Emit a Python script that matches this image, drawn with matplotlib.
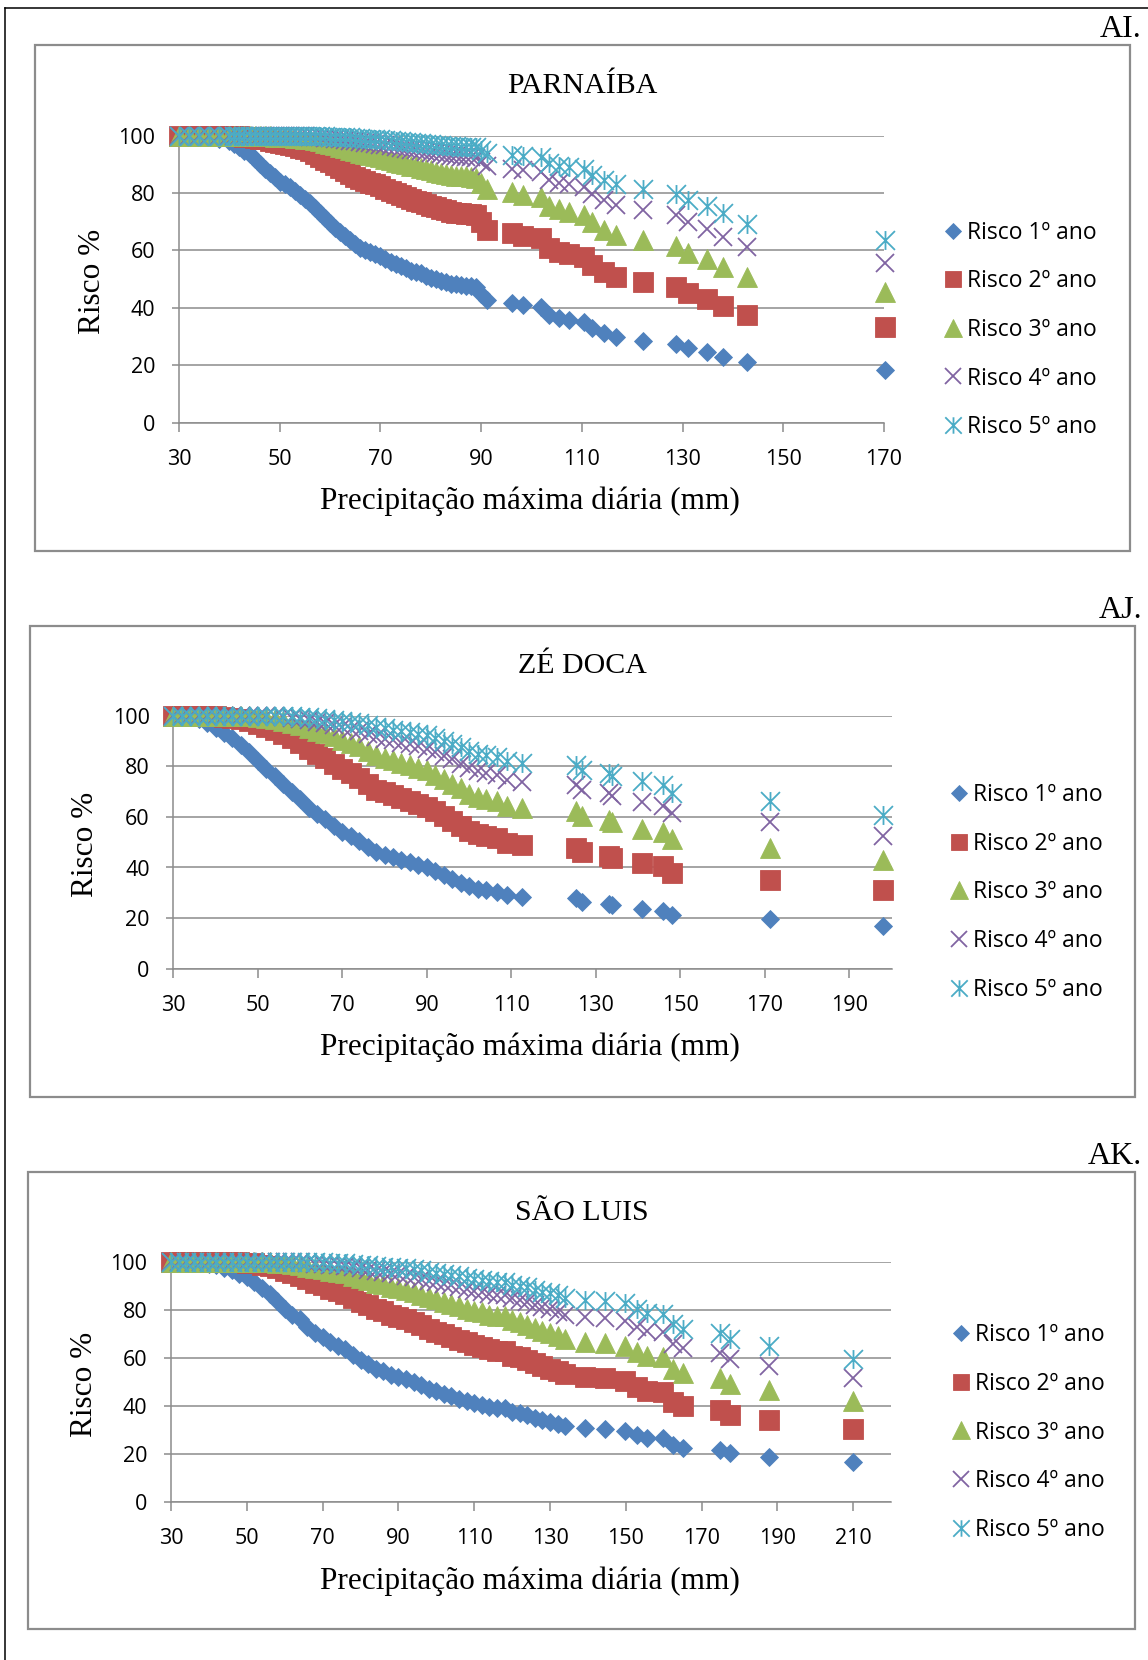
import matplotlib
matplotlib.use("Agg")
import matplotlib.pyplot as plt
from matplotlib.path import Path
from matplotlib.patches import Rectangle
from matplotlib.lines import Line2D

SANS = ['Open Sans', 'DejaVu Sans']
plt.rcParams['font.family'] = SANS

# ---------------- DATA ----------------
series_labels = ["Risco 1º ano", "Risco 2º ano", "Risco 3º ano", "Risco 4º ano", "Risco 5º ano"]
station_names = ["PARNAÍBA", "ZÉ DOCA", "SÃO LUIS"]
panel_tags = ["AI.", "AJ.", "AK."]
x_label = "Precipitação máxima diária (mm)"
y_label = "Risco %"

# PARNAÍBA
parnaiba_x = [30, 32, 34, 36, 38,
              40, 41, 42, 43, 44, 45, 46, 47, 48, 49,
              50, 51, 52, 53, 54, 55, 56, 57, 58, 59,
              60, 61, 62, 63, 64, 65, 66, 67, 68, 69,
              70, 71, 72, 73, 74, 75, 76, 77, 78, 79,
              80, 81, 82, 83, 84, 85, 86, 87, 88, 89,
              90, 91.2, 96.1, 98.3, 101.9, 103.4, 105.4, 107.5, 110.4, 112, 114.4, 116.8,
              122.1, 128.6, 131, 134.9, 138, 142.7, 170.2]
parnaiba_r1 = [100, 100, 99.8, 99.5, 99,
               98, 97, 96, 94.8, 93.5, 91.8, 90, 88.5, 87, 85.5,
               84, 83, 82, 80.8, 79.5, 78, 76.5, 74.8, 73, 71.2,
               69.5, 68, 66.5, 65, 63.5, 62.2, 61, 60.2, 59.5, 58.8,
               58, 57, 56, 55.2, 54.5, 53.8, 53, 52.5, 52, 51.2,
               50.5, 50, 49.5, 49, 48.5, 48.2, 48, 47.8, 47.7, 47.4,
               45, 42.8, 41.8, 41.0, 40.4, 37.5, 36.4, 35.8, 35.0, 32.9, 31.1, 29.8,
               28.6, 27.4, 25.9, 24.5, 23, 21, 18.4]
parnaiba_r2 = [100, 100, 100, 100, 100,
               100, 99.9, 99.8, 99.7, 99.6, 99.3, 99, 98.7, 98.3, 97.9,
               97.4, 97.1, 96.8, 96.3, 95.8, 95.2, 94.5, 93.6, 92.7, 91.7,
               90.7, 89.8, 88.8, 87.8, 86.7, 85.7, 84.8, 84.2, 83.6, 83.0,
               82.4, 81.5, 80.6, 79.9, 79.3, 78.7, 77.9, 77.4, 77.0, 76.2,
               75.5, 75.0, 74.5, 74.0, 73.5, 73.2, 73.0, 72.8, 72.6, 72.3,
               69.8, 67.3, 66.1, 65.2, 64.5, 60.9, 59.6, 58.8, 57.8, 55.0, 52.5, 50.7,
               49.0, 47.3, 45.1, 43.0, 40.7, 37.6, 33.4]
parnaiba_r3 = [100, 100, 100, 100, 100,
               100, 100, 100, 100, 100, 99.9, 99.9, 99.8, 99.8, 99.7,
               99.6, 99.5, 99.4, 99.3, 99.1, 98.9, 98.7, 98.4, 98.0, 97.6,
               97.2, 96.7, 96.2, 95.7, 95.1, 94.6, 94.1, 93.7, 93.4, 93.0,
               92.6, 92.0, 91.5, 91.0, 90.6, 90.1, 89.6, 89.3, 88.9, 88.4,
               87.9, 87.5, 87.1, 86.7, 86.3, 86.1, 85.9, 85.8, 85.7, 85.4,
               83.4, 81.3, 80.3, 79.5, 78.8, 75.6, 74.3, 73.5, 72.5, 69.8, 67.3, 65.4,
               63.6, 61.7, 59.3, 57.0, 54.3, 50.7, 45.7]
parnaiba_r4 = [100, 100, 100, 100, 100,
               100, 100, 100, 100, 100, 100, 100, 100, 100, 100,
               99.9, 99.9, 99.9, 99.9, 99.8, 99.8, 99.7, 99.6, 99.5, 99.3,
               99.1, 99.0, 98.7, 98.5, 98.2, 98.0, 97.7, 97.5, 97.3, 97.1,
               96.9, 96.6, 96.3, 96.0, 95.7, 95.4, 95.1, 94.9, 94.7, 94.3,
               94.0, 93.8, 93.5, 93.2, 93.0, 92.8, 92.7, 92.6, 92.5, 92.3,
               90.8, 89.3, 88.5, 87.9, 87.4, 84.7, 83.6, 83.0, 82.1, 79.7, 77.5, 75.7,
               74.0, 72.2, 69.8, 67.5, 64.8, 61.1, 55.7]
parnaiba_r5 = [100, 100, 100, 100, 100,
               100, 100, 100, 100, 100, 100, 100, 100, 100, 100,
               100, 100, 100, 100, 100, 99.9, 99.9, 99.9, 99.9, 99.8,
               99.7, 99.7, 99.6, 99.5, 99.4, 99.2, 99.1, 99.0, 98.9, 98.8,
               98.7, 98.5, 98.4, 98.2, 98.0, 97.9, 97.7, 97.6, 97.5, 97.2,
               97.0, 96.9, 96.7, 96.5, 96.4, 96.3, 96.2, 96.1, 96.1, 96.0,
               95.0, 93.9, 93.3, 92.8, 92.5, 90.5, 89.6, 89.1, 88.4, 86.4, 84.5, 83.0,
               81.4, 79.8, 77.7, 75.5, 72.9, 69.2, 63.8]

# ZÉ DOCA
zedoca_x = [30, 32, 34, 36, 38, 40, 42, 44, 46, 48, 50, 52, 54, 56, 58, 60, 62, 64, 66, 68,
            70, 72, 74, 76, 78, 80, 82, 84, 86, 88, 90, 92, 94, 96, 98, 100, 102, 104,
            106.5, 108.9, 112.6, 125.3, 126.7, 133.2, 133.8, 140.9, 146, 148, 171.2, 197.9]
zedoca_r1 = [100, 100, 99.5, 98.5, 97, 95, 93, 91, 88.5, 85.5, 82, 79, 76, 73, 70, 67, 63.5, 61, 59, 56.5,
             54, 52.5, 50.5, 48, 46, 45, 44, 43, 42, 41, 40, 38.5, 37, 35.5, 34, 32.5, 31.5, 31,
             30.5, 29.1, 28.5, 27.8, 26.5, 25.6, 25.0, 23.6, 22.8, 21.2, 19.5, 17.0]
zedoca_r2 = [100, 100, 100, 100, 100, 99.8, 99.5, 99.2, 98.7, 97.9, 96.8, 95.6, 94.2, 92.7, 91.0, 89.1, 86.7, 84.8, 83.2, 81.1,
             78.8, 77.4, 75.5, 73.0, 70.8, 69.8, 68.6, 67.5, 66.4, 65.2, 64.0, 62.2, 60.3, 58.4, 56.4, 54.4, 53.1, 52.4,
             51.7, 49.7, 48.9, 47.9, 46.0, 44.6, 43.8, 41.6, 40.4, 37.9, 35.2, 31.1]
zedoca_r3 = [100, 100, 100, 100, 100, 100, 100, 99.9, 99.8, 99.7, 99.4, 99.1, 98.6, 98.0, 97.3, 96.4, 95.1, 94.1, 93.1, 91.8,
             90.3, 89.3, 87.9, 85.9, 84.3, 83.4, 82.4, 81.5, 80.5, 79.5, 78.4, 76.7, 75.0, 73.2, 71.3, 69.2, 67.9, 67.1,
             66.4, 64.4, 63.4, 62.4, 60.3, 58.8, 57.8, 55.4, 54.0, 51.1, 47.8, 42.8]
zedoca_r4 = [100, 100, 100, 100, 100, 100, 100, 100, 100, 100, 99.9, 99.8, 99.7, 99.5, 99.2, 98.8, 98.2, 97.7, 97.2, 96.4,
             95.5, 94.9, 94.0, 92.7, 91.5, 90.8, 90.2, 89.4, 88.7, 87.9, 87.0, 85.7, 84.2, 82.7, 81.0, 79.2, 78.0, 77.3,
             76.7, 74.7, 73.9, 72.8, 70.8, 69.4, 68.4, 65.9, 64.5, 61.4, 58.0, 52.5]
zedoca_r5 = [100, 100, 100, 100, 100, 100, 100, 100, 100, 100, 100, 100, 99.9, 99.9, 99.8, 99.6, 99.4, 99.1, 98.8, 98.4,
             97.9, 97.6, 97.0, 96.2, 95.4, 95.0, 94.5, 94.0, 93.4, 92.9, 92.2, 91.2, 90.1, 88.8, 87.5, 86.0, 84.9, 84.4,
             83.8, 82.1, 81.3, 80.4, 78.6, 77.2, 76.3, 74.0, 72.6, 69.6, 66.2, 60.6]

# SÃO LUIS
saoluis_x = [30, 32, 34, 36, 38, 40, 42, 44, 46, 48, 50, 52, 54, 56, 58, 60, 62, 64, 66, 68,
             70, 72, 74, 76, 78, 80, 82, 84, 86, 88, 90, 92, 94, 96, 98, 100, 102, 104, 106, 108,
             110, 112, 114, 116, 118, 120, 122, 124, 126, 128, 130, 132, 134,
             139.2, 144.5, 149.8, 152.9, 155.5, 159.9, 162.5, 165.2, 174.9, 177.5, 187.9, 210]
saoluis_r1 = [100, 100, 100, 99.8, 99.5, 99, 98.5, 97.5, 96.5, 95, 93.5, 91.5, 89, 86.5, 83.5, 80.5, 78, 76, 73, 70.5,
              68.5, 66.5, 65, 63.5, 61, 59, 57.5, 55.5, 54.5, 53, 52, 51, 50, 48.5, 47, 46, 45, 44, 43, 42,
              41, 40.5, 39.6, 39.2, 38.9, 37.5, 36.8, 36, 35, 34, 33.3, 32.5, 31.5,
              30.6, 30.3, 29.5, 27.8, 26.7, 26.4, 23.6, 22.5, 21.5, 20.2, 18.8, 16.5]
saoluis_r2 = [100, 100, 100, 100, 100, 100, 100, 99.9, 99.9, 99.8, 99.6, 99.3, 98.8, 98.2, 97.3, 96.2, 95.2, 94.2, 92.7, 91.3,
              90.1, 88.8, 87.8, 86.7, 84.8, 83.2, 81.9, 80.2, 79.3, 77.9, 77.0, 76.0, 75.0, 73.5, 71.9, 70.8, 69.8, 68.6, 67.5, 66.4,
              65.2, 64.6, 63.5, 63.0, 62.7, 60.9, 60.1, 59.0, 57.8, 56.4, 55.5, 54.4, 53.1,
              51.8, 51.4, 50.3, 47.9, 46.3, 45.8, 41.6, 39.9, 38.4, 36.3, 34.1, 30.3]
saoluis_r3 = [100, 100, 100, 100, 100, 100, 100, 100, 100, 100, 100, 99.9, 99.9, 99.8, 99.6, 99.3, 98.9, 98.6, 98.0, 97.4,
              96.9, 96.2, 95.7, 95.1, 94.1, 93.1, 92.3, 91.2, 90.6, 89.6, 88.9, 88.2, 87.5, 86.3, 85.1, 84.3, 83.4, 82.4, 81.5, 80.5,
              79.5, 78.9, 78.0, 77.5, 77.2, 75.6, 74.8, 73.8, 72.5, 71.3, 70.3, 69.2, 67.9,
              66.6, 66.1, 65.0, 62.4, 60.6, 60.1, 55.4, 53.5, 51.6, 49.2, 46.5, 41.8]
saoluis_r4 = [100, 100, 100, 100, 100, 100, 100, 100, 100, 100, 100, 100, 100, 100, 99.9, 99.9, 99.8, 99.7, 99.5, 99.2,
              99.0, 98.7, 98.5, 98.2, 97.7, 97.2, 96.7, 96.1, 95.7, 95.1, 94.7, 94.2, 93.8, 93.0, 92.1, 91.5, 90.8, 90.2, 89.4, 88.7,
              87.9, 87.5, 86.7, 86.3, 86.1, 84.7, 84.0, 83.2, 82.1, 81.0, 80.2, 79.2, 78.0,
              76.8, 76.4, 75.3, 72.8, 71.1, 70.7, 65.9, 63.9, 62.0, 59.4, 56.5, 51.4]
saoluis_r5 = [100, 100, 100, 100, 100, 100, 100, 100, 100, 100, 100, 100, 100, 100, 100, 100, 99.9, 99.9, 99.9, 99.8,
              99.7, 99.6, 99.5, 99.4, 99.1, 98.8, 98.6, 98.3, 98.0, 97.7, 97.5, 97.2, 96.9, 96.4, 95.8, 95.4, 95.0, 94.5, 94.0, 93.4,
              92.8, 92.5, 92.0, 91.7, 91.5, 90.5, 89.9, 89.3, 88.4, 87.5, 86.8, 86.0, 84.9,
              83.9, 83.6, 82.6, 80.4, 78.8, 78.4, 74.0, 72.0, 70.2, 67.6, 64.7, 59.4]

x_max = [170, 200, 220]

# ---------------- STYLE / LAYOUT ----------------
W, H, DPI = 1148, 1660, 100
colors = ['#4F81BD', '#C0504D', '#9BBB59', '#8064A2', '#4BACC6']
aster = Path([(-1, -1), (1, 1), (-1, 1), (1, -1), (0, -1), (0, 1)],
             [Path.MOVETO, Path.LINETO, Path.MOVETO, Path.LINETO, Path.MOVETO, Path.LINETO])
markers = [dict(marker='D', ms=9.6, mec=colors[0], mfc=colors[0], mew=0.6),
           dict(marker='s', ms=13.8, mec=colors[1], mfc=colors[1], mew=0.6),
           dict(marker='^', ms=14.2, mec=colors[2], mfc=colors[2], mew=0.6),
           dict(marker='x', ms=13.6, mec=colors[3], mew=1.3),
           dict(marker=aster, ms=13.6, mec=colors[4], mew=1.3)]
GRID = '#8c8c8c'
SERIF = ['Liberation Serif', 'DejaVu Serif']

# layout in pixels
boxes = [(35, 45.5, 1130, 551), (29.7, 626, 1135, 1097), (27.5, 1172, 1135, 1629)]
axes_px = [(179, 884, 135.7, 422.7), (173.3, 891.6, 715.7, 968.7), (171, 891.1, 1261.7, 1501.7)]
tag_y = [29.5, 610, 1156]
title_y = [86, 666, 1212.5]
ylab_pos = [(92, 281), (85.5, 844), (84.5, 1384)]
xlab_y = [501, 1047, 1581]
leg_pos = [(953, 330), (958.5, 892.5), (960.5, 1432.5)]

data = [
    (parnaiba_x, [parnaiba_r1, parnaiba_r2, parnaiba_r3, parnaiba_r4, parnaiba_r5]),
    (zedoca_x, [zedoca_r1, zedoca_r2, zedoca_r3, zedoca_r4, zedoca_r5]),
    (saoluis_x, [saoluis_r1, saoluis_r2, saoluis_r3, saoluis_r4, saoluis_r5]),
]

fig = plt.figure(figsize=(W / DPI, H / DPI), dpi=DPI)
fig.patch.set_facecolor('white')


def fx(px):
    return px / W


def fy(py):
    return 1 - py / H


# outer frame (top and left edges visible)
fig.add_artist(Line2D([fx(5), 1.0], [fy(8), fy(8)], color='black', lw=1.1))
fig.add_artist(Line2D([fx(5), fx(5)], [fy(8), 0.0], color='black', lw=1.1))

FS_TICK = 15.5
FS_LEG = 16.5
fs_px = FS_LEG * DPI / 72.0

for i in range(3):
    bx0, by0, bx1, by1 = boxes[i]
    fig.add_artist(Rectangle((fx(bx0), fy(by1)), fx(bx1) - fx(bx0), fy(by0) - fy(by1),
                             transform=fig.transFigure, fill=False, edgecolor=GRID, lw=1.6))
    fig.text(fx(1142), fy(tag_y[i]), panel_tags[i], ha='right', va='center',
             fontsize=23, family=SERIF)

    l, r, t, b = axes_px[i]
    ax = fig.add_axes([fx(l), fy(b), fx(r) - fx(l), fy(t) - fy(b)])
    xs, ys = data[i]
    handles = []
    for k in range(5):
        h, = ax.plot(xs, ys[k], linestyle='none', clip_on=False, zorder=3 + k,
                     label=series_labels[k], **markers[k])
        handles.append(h)

    ax.set_xlim(30, x_max[i])
    ax.set_ylim(0, 100)
    ax.set_xticks(list(range(30, x_max[i] + 1, 20)))
    ax.set_yticks([0, 20, 40, 60, 80, 100])
    ax.yaxis.grid(True, color=GRID, lw=1.1)
    ax.set_axisbelow(True)
    for s in ['top', 'right']:
        ax.spines[s].set_visible(False)
    for s in ['left', 'bottom']:
        ax.spines[s].set_color(GRID)
        ax.spines[s].set_linewidth(1.1)
    ax.tick_params(axis='x', direction='out', color=GRID, width=1.1, length=6.5,
                   labelsize=FS_TICK, pad=12.5)
    ax.tick_params(axis='y', direction='out', color=GRID, width=1.1, length=5,
                   labelsize=FS_TICK, pad=12)

    w_px = r - l
    h_px = b - t
    # title
    ax.set_title(station_names[i], x=(582 - l) / w_px, y=(b - title_y[i]) / h_px, pad=0,
                 va='center', fontsize=21.5, family=SERIF)
    # axis labels
    ax.set_ylabel(y_label, fontsize=22.5, family=SERIF)
    ax.yaxis.set_label_coords((ylab_pos[i][0] - l) / w_px, (b - ylab_pos[i][1]) / h_px)
    ax.yaxis.label.set_va('center')
    ax.set_xlabel(x_label, fontsize=22.5, family=SERIF)
    ax.xaxis.set_label_coords((530 - l) / w_px, (b - xlab_y[i]) / h_px)
    ax.xaxis.label.set_va('center')

    lx, ly = leg_pos[i]
    ax.legend(handles=handles, loc='center left',
              bbox_to_anchor=(fx(lx - 0.35 * fs_px), fy(ly)), bbox_transform=fig.transFigure,
              frameon=False, borderpad=0, borderaxespad=0, handlelength=0.7,
              handletextpad=0.28, labelspacing=1.07, markerscale=0.87,
              prop=dict(family=SANS, size=FS_LEG))

fig.savefig('out.png', dpi=DPI, facecolor='white')
